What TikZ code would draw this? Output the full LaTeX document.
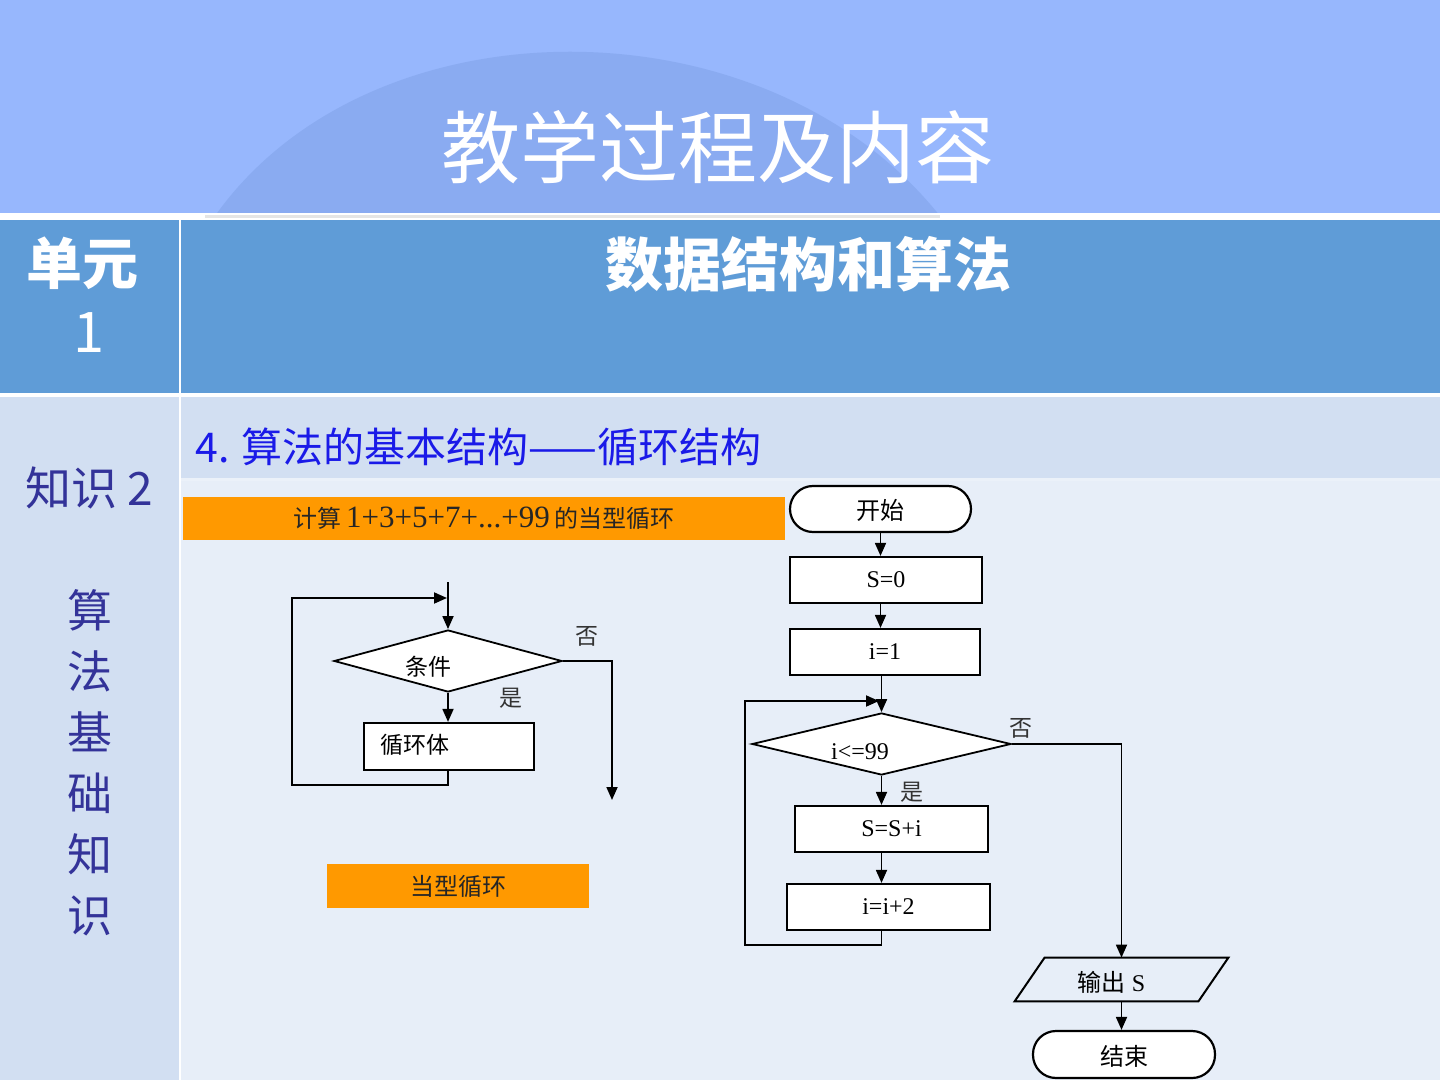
\documentclass[tikz,border=0pt]{standalone}
\usepackage{fontspec}
\setmainfont{Liberation Serif}
\newfontfamily\cjk{Noto Sans CJK SC}
\usetikzlibrary{shapes.geometric,arrows.meta}
\definecolor{topblue}{HTML}{97B7FD}
\definecolor{hillblue}{HTML}{8AABF1}
\definecolor{rowone}{HTML}{5F9CD7}
\definecolor{rowtwo}{HTML}{D2DFF2}
\definecolor{rowlight}{HTML}{E7EEF8}
\definecolor{orangebox}{HTML}{FF9900}
\definecolor{headblue}{HTML}{1A1AE8}
\definecolor{knowblue}{HTML}{333399}
\newcommand{\lowtext}[2]{\raisebox{-#1}[9pt][3pt]{#2}}
\begin{document}
\begin{tikzpicture}[x=0.5pt,y=-0.5pt,
  arr/.style={-{Triangle[length=6.5pt,width=5.5pt]}, line width=0.9pt, draw=black},
  fbox/.style={draw=black, line width=1.1pt, fill=white, rectangle, inner sep=0pt,
    font=\fontsize{12}{14}\selectfont},
  fdia/.style={draw=black, line width=0.9pt, fill=white, diamond, inner sep=0pt},
  term/.style={fbox, rounded corners=11.5pt},
  lbl/.style={font=\cjk\fontsize{11.5}{13}\selectfont, text=black!80, inner sep=0pt},
  obox/.style={fill=orangebox, inner sep=0pt, text=black!85},
  plain/.style={inner sep=0pt}
]
\useasboundingbox (0,0) rectangle (1440,1080);
% ---------- backgrounds ----------
\fill[topblue] (0,0) rectangle (1440,214);
\fill[hillblue] (215,216) .. controls (370,-3) and (765,-3) .. (940,216) -- cycle;
\fill[white] (0,213) rectangle (1440,220);
\fill[black!10] (205,215.5) rectangle (940,218.5);
\fill[rowone] (0,220) rectangle (1440,393);
\fill[white] (0,393) rectangle (1440,397);
\fill[rowtwo] (0,397) rectangle (1440,1080);
\fill[white!55!rowtwo] (181,478) rectangle (1440,481);
\fill[rowlight] (181,481) rectangle (1440,1080);
\fill[white] (178.5,220) rectangle (181,1080);

% ---------- header texts ----------
\node[plain, text=white, font=\cjk\fontsize{39.5}{44}\selectfont] (title) at (718,147) {教学过程及内容};
\node[plain, text=white, font=\cjk\bfseries\fontsize{28}{35}\selectfont] (unit) at (82,263) {单元};
\node[plain, text=white, font=\cjk\fontsize{28}{35}\selectfont] (unitno) at (89,333) {1};
\node[plain, text=white, font=\cjk\bfseries\fontsize{29}{34}\selectfont] (unitname) at (808,264) {数据结构和算法};
\node[plain, anchor=west, text=headblue, font=\cjk\fontsize{20.5}{24}\selectfont] (heading) at (195,447) {4. 算法的基本结构——循环结构};
\node[plain, text=knowblue, font=\cjk\fontsize{23}{26}\selectfont] (know) at (89,488) {知识 2};
\node[plain, text=knowblue, align=center, font=\cjk\fontsize{22.5}{30.5}\selectfont] (knowv) at (90,763) {算\\法\\基\\础\\知\\识};

% ---------- orange labels ----------
\node[obox, minimum width=301pt, minimum height=21.5pt] (o1) at (484,518.5)
  {{\cjk\fontsize{12}{14}\selectfont 计算} {\fontsize{15.5}{17}\selectfont 1+3+5+7+...+99} {\cjk\fontsize{12}{14}\selectfont 的当型循环}};
\node[obox, minimum width=131pt, minimum height=22pt, font=\cjk\fontsize{12}{14}\selectfont] (o2) at (458,886) {当型循环};

% ---------- left flowchart ----------
\node[fdia, minimum width=114pt, minimum height=31pt] (d1) at (448,661) {};
\node[lbl, text=black] (d1t) at (428,667) {条件};
\node[fbox, minimum width=85pt, minimum height=23.5pt] (b1) at (449,746.5) {};
\node[lbl, text=black, anchor=west] (b1t) at (380,745) {循环体};
\coordinate (in1) at (448,582);
\coordinate (L1) at (292,785);
\coordinate (L2) at (292,598);
\coordinate (J1) at (447,598);
\coordinate (N1) at (612,800);
\draw[arr] (in1) -- (d1.north);
\draw[arr] (d1.south) -- (d1.south |- b1.north);
\draw[arr] (d1.south |- b1.south) |- (L1) -- (L2) -- (J1);
\draw[arr] (d1.east) -| (N1);
\node[lbl] (no1) at (587,636) {否};
\node[lbl] (yes1) at (511,698) {是};

% ---------- right flowchart ----------
\node[term, minimum width=90.5pt, minimum height=23pt] (start) at (880.5,509) {\cjk\lowtext{2pt}{开始}};
\node[fbox, minimum width=96pt, minimum height=23pt] (s0) at (886,580) {S=0};
\node[fbox, minimum width=95pt, minimum height=23pt] (i1) at (885,652) {i=1};
\node[fdia, minimum width=129.5pt, minimum height=31pt] (d2) at (881.5,744) {};
\node[plain, font=\fontsize{12}{14}\selectfont] (d2t) at (860,752) {i<=99};
\node[fbox, minimum width=96.5pt, minimum height=23pt] (ss) at (891.5,829) {S=S+i};
\node[fbox, minimum width=101.5pt, minimum height=23pt] (i2) at (888.5,907) {i=i+2};
\node[plain, minimum width=91.5pt, minimum height=21.5pt, font=\fontsize{12}{14}\selectfont] (out) at (1121.5,979.5) {\lowtext{3pt}{{\cjk 输出} S}\hspace*{10pt}};
\draw[line width=1pt] ([xshift=-7.5pt]out.south west) -- ([xshift=7.5pt]out.north west)
  -- ([xshift=7.5pt]out.north east) -- ([xshift=-7.5pt]out.south east) -- cycle;
\node[term, minimum width=91pt, minimum height=23.5pt] (end) at (1124,1054.5) {\cjk\lowtext{2.5pt}{结束}};
\coordinate (R1) at (745,945);
\coordinate (R2) at (745,701);
\coordinate (RJ) at (879,701);
\draw[arr] (start.south) -- (start.south |- s0.north);
\draw[arr] (start.south |- s0.south) -- (start.south |- i1.north);
\draw[arr] (d2.north |- i1.south) -- (d2.north);
\draw[arr] (d2.south) -- (d2.south |- ss.north);
\draw[arr] (d2.south |- ss.south) -- (d2.south |- i2.north);
\draw[arr] (d2.south |- i2.south) |- (R1) -- (R2) -- (RJ);
\draw[arr] (d2.east) -| (out.north);
\draw[arr] (out.south) -- (out.south |- end.north);
\node[lbl] (no2) at (1021,728) {否};
\node[lbl] (yes2) at (912,792) {是};
\end{tikzpicture}
\end{document}
